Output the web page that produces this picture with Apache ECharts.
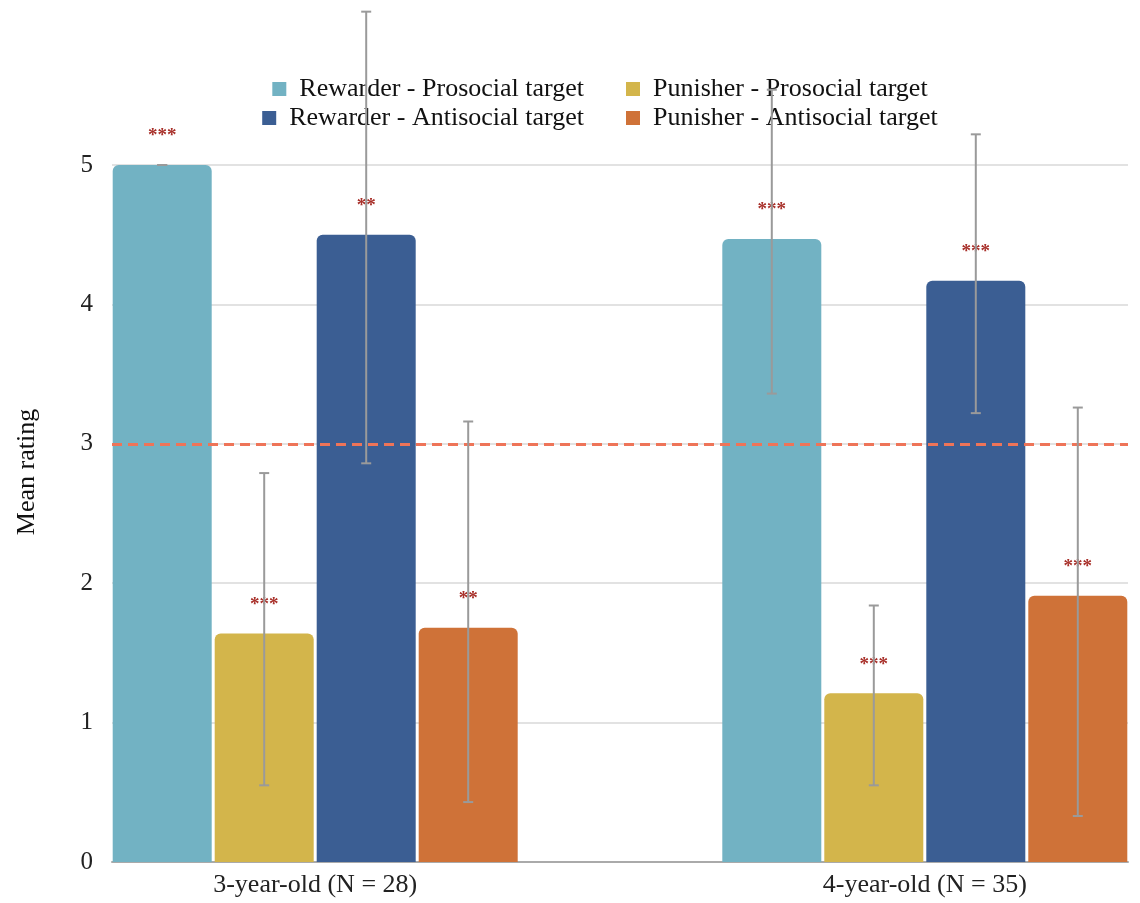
<!DOCTYPE html>
<html>
<head>
<meta charset="utf-8">
<script src="https://cdn.jsdelivr.net/npm/echarts@6/dist/echarts.min.js"></script>
<style>
html, body { margin: 0; padding: 0; background: #fff; }
#meanRatingChart { width: 1140px; height: 903px; }
</style>
</head>
<body>
<div id="meanRatingChart"></div>
<script>
// age groups, placed on a value x axis (0..5) at these positions
var groupNames = ['3-year-old (N = 28)', '4-year-old (N = 35)'];
var groupPos = [1, 4];

var seriesNames = ['Rewarder - Prosocial target', 'Punisher - Prosocial target',
    'Rewarder - Antisocial target', 'Punisher - Antisocial target'];

// mean ratings
var rewarderProsocial = [5.0, 4.47];
var punisherProsocial = [1.64, 1.21];
var rewarderAntisocial = [4.5, 4.17];
var punisherAntisocial = [1.68, 1.91];

// error bar ends (low / high)
var rewarderProsocialLow = [5.0, 3.36];
var rewarderProsocialHigh = [5.0, 5.54];
var punisherProsocialLow = [0.55, 0.55];
var punisherProsocialHigh = [2.79, 1.84];
var rewarderAntisocialLow = [2.86, 3.22];
var rewarderAntisocialHigh = [6.10, 5.22];
var punisherAntisocialLow = [0.43, 0.33];
var punisherAntisocialHigh = [3.16, 3.26];

// significance stars
var rewarderProsocialStars = ['***', '***'];
var punisherProsocialStars = ['***', '***'];
var rewarderAntisocialStars = ['**', '***'];
var punisherAntisocialStars = ['**', '***'];

var yTicks = [0, 1, 2, 3, 4, 5];
var chanceLevel = 3;

var colors = ['#72b2c3', '#d3b54b', '#3b5e93', '#cf7238'];
var serif = "'Liberation Serif', 'Times New Roman', serif";
var barW = 99;
var barSpace = 3;

var means = [rewarderProsocial, punisherProsocial, rewarderAntisocial, punisherAntisocial];
var lows = [rewarderProsocialLow, punisherProsocialLow, rewarderAntisocialLow, punisherAntisocialLow];
var highs = [rewarderProsocialHigh, punisherProsocialHigh, rewarderAntisocialHigh, punisherAntisocialHigh];
var stars = [rewarderProsocialStars, punisherProsocialStars, rewarderAntisocialStars, punisherAntisocialStars];

var chart = echarts.init(document.getElementById('meanRatingChart'));

var series = [];
means.forEach(function (vals, i) {
    var s = {
        name: seriesNames[i],
        type: 'bar',
        barWidth: barW,
        barGap: (barSpace / barW * 100) + '%',
        itemStyle: {color: colors[i], borderRadius: [6, 6, 0, 0]},
        label: {
            show: true,
            position: 'top',
            distance: 19,
            color: '#a8302a',
            fontFamily: serif,
            fontWeight: 'bold',
            fontSize: 19,
            formatter: function (p) { return stars[i][p.dataIndex]; }
        },
        data: vals.map(function (v, k) { return [groupPos[k], v]; })
    };
    if (i === 0) {
        s.markLine = {
            silent: true,
            symbol: 'none',
            label: {show: false},
            lineStyle: {color: '#ee7458', type: [10, 6], width: 3},
            data: [{yAxis: chanceLevel}]
        };
    }
    series.push(s);
});

// error bars on top of the bars
means.forEach(function (vals, i) {
    var offset = (i - 1.5) * (barW + barSpace);
    series.push({
        type: 'custom',
        clip: false,
        z: 5,
        silent: true,
        renderItem: function (params, api) {
            var pLo = api.coord([api.value(0), api.value(1)]);
            var pHi = api.coord([api.value(0), api.value(2)]);
            var cx = pLo[0] + offset;
            var st = {stroke: '#9a9a9a', lineWidth: 2};
            return {
                type: 'group',
                children: [
                    {type: 'line', shape: {x1: cx, y1: pLo[1], x2: cx, y2: pHi[1]}, style: st},
                    {type: 'line', shape: {x1: cx - 5, y1: pLo[1], x2: cx + 5, y2: pLo[1]}, style: st},
                    {type: 'line', shape: {x1: cx - 5, y1: pHi[1], x2: cx + 5, y2: pHi[1]}, style: st}
                ]
            };
        },
        data: vals.map(function (v, k) { return [groupPos[k], lows[i][k], highs[i][k]]; })
    });
});

function legendItem(name, pos) {
    return Object.assign({
        data: [name],
        selectedMode: false,
        icon: 'rect',
        itemWidth: 14,
        itemHeight: 14,
        textStyle: {fontFamily: serif, fontSize: 26, color: '#111', padding: [0, 0, 0, 8]}
    }, pos);
}

var option = {
    animation: false,
    backgroundColor: '#fff',
    legend: [
        legendItem(seriesNames[0], {right: 551, top: 71}),
        legendItem(seriesNames[2], {right: 551, top: 100}),
        legendItem(seriesNames[1], {left: 621, top: 71}),
        legendItem(seriesNames[3], {left: 621, top: 100})
    ],
    graphic: [{
        type: 'text',
        x: 27,
        y: 472,
        rotation: Math.PI / 2,
        style: {
            text: 'Mean rating',
            font: "26px 'Liberation Serif', serif",
            fill: '#111',
            align: 'center',
            verticalAlign: 'middle'
        }
    }],
    grid: {left: 112, right: 12, top: 165, bottom: 41},
    xAxis: {
        type: 'value',
        min: 0,
        max: 5,
        interval: 1,
        axisLine: {show: true, lineStyle: {color: '#aaaaaa', width: 2}},
        axisTick: {show: false},
        splitLine: {show: false},
        axisLabel: {
            fontFamily: serif,
            fontSize: 26,
            color: '#222',
            margin: 10,
            formatter: function (v) {
                var k = groupPos.indexOf(v);
                return k >= 0 ? groupNames[k] : '';
            }
        }
    },
    yAxis: {
        type: 'value',
        min: yTicks[0],
        max: yTicks[yTicks.length - 1],
        interval: 1,
        axisLine: {show: false},
        axisTick: {show: false},
        splitLine: {lineStyle: {color: '#d9d9d9', width: 1.5}},
        axisLabel: {fontFamily: serif, fontSize: 25, color: '#222', margin: 19}
    },
    series: series
};

chart.setOption(option);
</script>
</body>
</html>
